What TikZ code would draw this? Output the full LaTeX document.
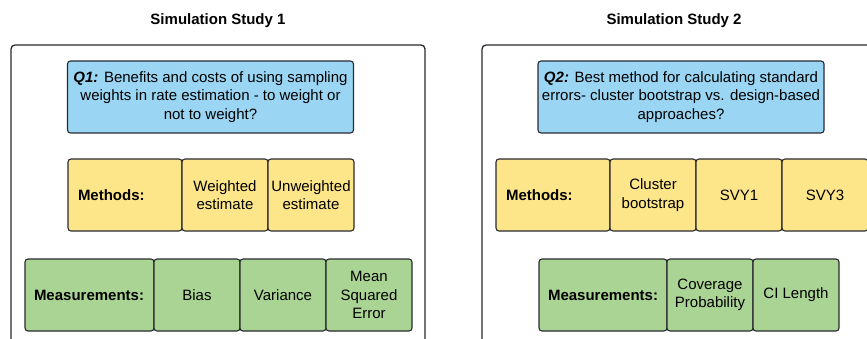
\documentclass[tikz,border=0pt]{standalone}
\usepackage{fontspec}
\setmainfont{Liberation Sans}
\usetikzlibrary{positioning}

\definecolor{qblue}{RGB}{154,214,243}
\definecolor{myellow}{RGB}{253,229,138}
\definecolor{mgreen}{RGB}{170,212,148}
\definecolor{lineg}{RGB}{40,42,48}

\newcommand{\diagfont}{\fontsize{15}{18.5}\selectfont}

\tikzstyle{study} = [draw=lineg, line width=1.3pt, rounded corners=4pt]
\tikzstyle{heading} = [font=\diagfont\bfseries]
\tikzstyle{cell} = [draw=lineg, line width=1.1pt, rounded corners=3pt, outer sep=0pt, inner sep=0pt, minimum height=72pt, minimum width=86pt, align=center]
\tikzstyle{question} = [cell, fill=qblue, minimum width=286pt]
\tikzstyle{method} = [cell, fill=myellow]
\tikzstyle{measure} = [cell, fill=mgreen]
\tikzstyle{rowlabel} = [font=\diagfont\bfseries, align=left, inner xsep=10pt, text width=94pt]

\begin{document}
\begin{tikzpicture}[x=1pt, y=-1pt, font=\diagfont]
\useasboundingbox (0,0) rectangle (867,339);
\clip (0,0) rectangle (867,339);

% first study
\node[heading] (title1) at (218,21) {Simulation Study 1};
\draw[study] (11,45) rectangle (425,390);
\node[question] (q1) at (210.5,97)
	{{\bfseries\itshape Q1:} Benefits and costs of using sampling\\
	weights in rate estimation - to weight or\\not to weight?};
\node[method, rowlabel] (meth1) at (125,195) {Methods:};
\node[method, right=0pt of meth1] (weighted) {Weighted\\estimate};
\node[method, right=0pt of weighted] (unweighted) {Unweighted\\estimate};
\node[measure, rowlabel, inner xsep=9pt, text width=111pt] (meas1) at (89.5,295) {Measurements:};
\node[measure, right=0pt of meas1] (bias) {Bias};
\node[measure, right=0pt of bias] (variance) {Variance};
\node[measure, right=0pt of variance] (mse) {Mean\\Squared\\Error};

% second study
\node[heading] (title2) at (674,21) {Simulation Study 2};
\draw[study] (482,45) rectangle (920,390);
\node[question] (q2) at (681,97)
	{{\bfseries\itshape Q2:} Best method for calculating standard\\
	errors- cluster bootstrap vs. design-based\\approaches?};
\node[method, rowlabel] (meth2) at (553,195) {Methods:};
\node[method, right=0pt of meth2] (bootstrap) {Cluster\\bootstrap};
\node[method, right=0pt of bootstrap] (svy1) {SVY1};
\node[method, right=0pt of svy1] (svy3) {SVY3};
\node[measure, rowlabel, inner xsep=9pt, text width=110pt] (meas2) at (603,295) {Measurements:};
\node[measure, right=0pt of meas2] (coverage) {Coverage\\Probability};
\node[measure, right=0pt of coverage] (cilength) {CI Length};
\end{tikzpicture}
\end{document}
